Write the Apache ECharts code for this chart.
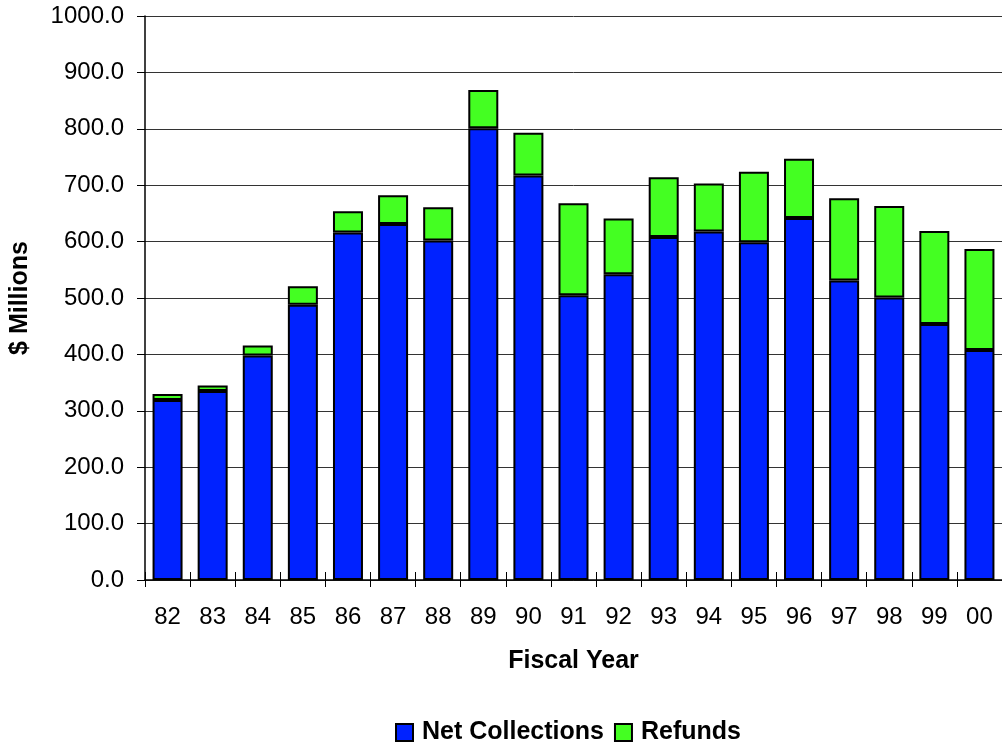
<!DOCTYPE html>
<html>
<head>
<meta charset="utf-8">
<script src="https://cdn.jsdelivr.net/npm/echarts@6/dist/echarts.min.js"></script>
<style>
html,body{margin:0;padding:0;background:#fff;}
#chart{width:1002px;height:746px;}
</style>
</head>
<body>
<div id="chart"></div>
<script>
const categories = ['82','83','84','85','86','87','88','89','90','91','92','93','94','95','96','97','98','99','00'];
const netCollections = [319,335,398,488,616,631,602,801,717,505,542,608,618,599,642,531,501,454,408];
const refunds = [11,10,18,33,38,51,59,68,76,163,99,106,85,125,105,146,162,165,179];
const yTicks = {min:0, max:1000, interval:100};

const chart = echarts.init(document.getElementById('chart'), null, {renderer:'canvas'});
const font = '"Liberation Sans", Arial, sans-serif';
chart.setOption({
  animation:false,
  backgroundColor:'#ffffff',
  grid:{left:143, right:-8, top:16, bottom:166, containLabel:false},
  legend:{
    data:['Net Collections','Refunds'],
    left:390, top:715,
    itemWidth:17, itemHeight:17, itemGap:10,
    icon:'rect',
    textStyle:{fontFamily:font, fontSize:25, fontWeight:'bold', color:'#000', padding:[0,0,0,4]}
  },
  xAxis:[{
    type:'category', data:categories,
    name:'Fiscal Year', nameLocation:'middle', nameGap:69,
    nameTextStyle:{fontFamily:font, fontSize:25, fontWeight:'bold', color:'#000'},
    axisLine:{lineStyle:{color:'#000', width:1.5}},
    axisTick:{show:true, length:7, lineStyle:{color:'#000'}},
    axisLabel:{fontFamily:font, fontSize:24, color:'#000', margin:25},
    splitLine:{show:false}
  },{
    type:'category', data:categories, position:'bottom',
    axisLine:{show:false}, axisLabel:{show:false},
    axisTick:{show:true, inside:true, length:8, lineStyle:{color:'#000'}}
  }],
  yAxis:{
    type:'value', min:yTicks.min, max:yTicks.max, interval:yTicks.interval,
    name:'$ Millions', nameLocation:'middle', nameGap:112, nameRotate:90,
    nameTextStyle:{fontFamily:font, fontSize:25, fontWeight:'bold', color:'#000'},
    axisLine:{show:true, lineStyle:{color:'#000', width:1.5}},
    axisTick:{show:true, length:8, lineStyle:{color:'#000'}},
    axisLabel:{fontFamily:font, fontSize:24, color:'#000', margin:21,
      formatter:function(v){return v.toFixed(1);}},
    splitLine:{show:true, lineStyle:{color:'#333', width:1}}
  },
  series:[{
    name:'Net Collections', type:'bar', stack:'total', data:netCollections,
    barWidth:30,
    itemStyle:{color:'#0022FF', borderColor:'#000', borderWidth:2}
  },{
    name:'Refunds', type:'bar', stack:'total', data:refunds,
    barWidth:30,
    itemStyle:{color:'#44FF22', borderColor:'#000', borderWidth:2}
  }]
});
</script>
</body>
</html>
